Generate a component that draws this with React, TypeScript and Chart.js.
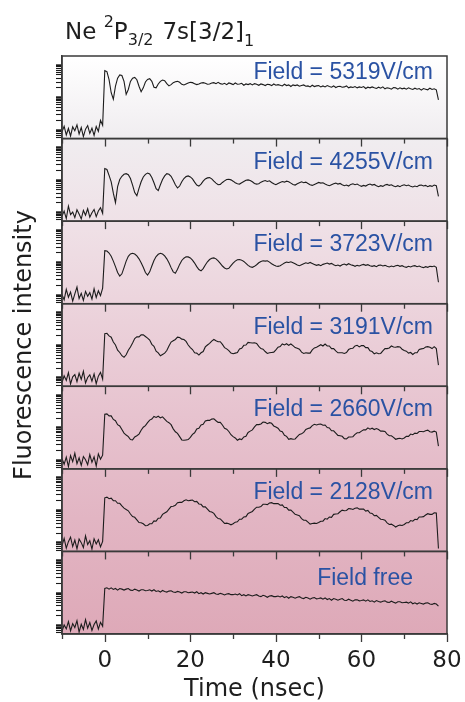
import React, { useEffect, useRef } from 'react';
import { Chart, registerables } from 'chart.js';

Chart.register(...registerables);

// Time axis samples (ns)
const timesNs = [
  -10, -9.5, -9, -8.5, -8, -7.5, -7, -6.5, -6, -5.5, -5, -4.5, -4, -3.5, -3, -2.5, -2, -1.5, -1, -0.5,
  0, 0.5, 1, 1.5, 2, 2.5, 3, 3.5, 4, 4.5, 5, 5.5, 6, 6.5, 7, 7.5, 8, 8.5, 9, 9.5,
  10, 10.5, 11, 11.5, 12, 12.5, 13, 13.5, 14, 14.5, 15, 15.5, 16, 16.5, 17, 17.5, 18, 18.5, 19, 19.5,
  20, 20.5, 21, 21.5, 22, 22.5, 23, 23.5, 24, 24.5, 25, 25.5, 26, 26.5, 27, 27.5, 28, 28.5, 29, 29.5,
  30, 30.5, 31, 31.5, 32, 32.5, 33, 33.5, 34, 34.5, 35, 35.5, 36, 36.5, 37, 37.5, 38, 38.5, 39, 39.5,
  40, 40.5, 41, 41.5, 42, 42.5, 43, 43.5, 44, 44.5, 45, 45.5, 46, 46.5, 47, 47.5, 48, 48.5, 49, 49.5,
  50, 50.5, 51, 51.5, 52, 52.5, 53, 53.5, 54, 54.5, 55, 55.5, 56, 56.5, 57, 57.5, 58, 58.5, 59, 59.5,
  60, 60.5, 61, 61.5, 62, 62.5, 63, 63.5, 64, 64.5, 65, 65.5, 66, 66.5, 67, 67.5, 68, 68.5, 69, 69.5,
  70, 70.5, 71, 71.5, 72, 72.5, 73, 73.5, 74, 74.5, 75, 75.5, 76, 76.5, 77, 77.5, 78,
];

// log10(fluorescence) before excitation (t = -10 … -0.5)
const pre5319 = [-0.05, 0.12, -0.15, 0.05, -0.18, 0.1, -0.02, 0.16, -0.12, 0.08, -0.2, 0.03, 0.14, -0.1, 0.06, -0.16, 0.11, -0.04, 0.3, 0.15];
const pre4255 = [-0.1, 0.05, -0.18, 0.2, -0.06, 0.02, -0.15, 0.09, -0.04, -0.19, 0.07, -0.08, 0.12, -0.14, 0.0, 0.1, -0.12, 0.05, 0.15, -0.02];
const pre3723 = [0.02, -0.14, 0.18, -0.06, 0.1, -0.18, 0.04, 0.25, -0.1, 0.06, -0.16, 0.12, -0.03, 0.08, -0.12, 0.2, -0.07, 0.14, -0.01, 0.22];
const pre3191 = [-0.15, 0.06, -0.08, 0.16, -0.19, 0.03, 0.1, -0.12, 0.14, -0.05, 0.2, -0.16, 0.01, 0.09, -0.1, 0.12, -0.18, 0.05, 0.17, -0.04];
const pre2660 = [0.05, -0.12, 0.1, -0.19, 0.15, -0.04, 0.22, -0.1, 0.08, -0.15, 0.12, 0.02, -0.13, 0.18, -0.06, 0.11, -0.17, 0.2, 0.04, 0.16];
const pre2128 = [-0.08, 0.14, -0.16, 0.04, 0.18, -0.11, 0.09, -0.18, 0.12, 0.01, -0.14, 0.22, -0.05, 0.07, -0.19, 0.13, -0.03, 0.1, -0.12, 0.05];
const preFree = [-0.18, 0.02, -0.1, 0.12, -0.16, 0.06, -0.06, 0.15, -0.2, 0.04, -0.12, 0.18, -0.08, 0.09, -0.15, 0.03, 0.14, -0.11, 0.1, -0.02];

// log10(fluorescence) after excitation (t = 0 … 78)
const post5319 = [
  1.83, 1.8, 1.55, 1.15, 0.95, 1.35, 1.6, 1.7, 1.68, 1.5,
  1.1, 1.25, 1.5, 1.6, 1.62, 1.55, 1.35, 1.18, 1.3, 1.48,
  1.56, 1.58, 1.5, 1.32, 1.3, 1.42, 1.5, 1.54, 1.52, 1.43,
  1.36, 1.4, 1.46, 1.49, 1.5, 1.47, 1.41, 1.39, 1.42, 1.45,
  1.47, 1.46, 1.43, 1.4, 1.42, 1.45, 1.46, 1.44, 1.41, 1.42,
  1.45,
  1.46, 1.43, 1.47, 1.43, 1.41, 1.44, 1.4, 1.45, 1.43, 1.4,
  1.45, 1.41, 1.42, 1.44, 1.38, 1.42, 1.4, 1.43, 1.39, 1.43,
  1.41, 1.38, 1.42, 1.4, 1.37, 1.41, 1.4, 1.37, 1.42, 1.38,
  1.4, 1.38, 1.36, 1.41, 1.37, 1.39, 1.34, 1.39, 1.37, 1.39,
  1.35, 1.37, 1.39, 1.35, 1.36, 1.33, 1.38, 1.34, 1.36, 1.37,
  1.33, 1.36, 1.33, 1.37, 1.34, 1.32, 1.36, 1.31, 1.34, 1.35,
  1.32, 1.33, 1.36, 1.3, 1.33, 1.31, 1.34, 1.3, 1.33, 1.31,
  1.34, 1.28, 1.32, 1.3, 1.33, 1.3, 1.28, 1.32, 1.29, 1.33,
  1.27, 1.3, 1.29, 1.26, 1.31, 1.3, 1.26, 1.3, 1.27, 1.29,
  1.26, 1.3, 1.27, 1.25, 1.29, 1.26, 1.28, 1.23, 1.28, 1.26,
  1.24, 1.29, 1.25, 1.27, 1.24, 0.93,
];
const post4255 = [
  1.36, 1.33, 1.15, 0.95, 0.6, 0.31, 0.8, 1.02, 1.12, 1.18,
  1.2, 1.17, 1.05, 0.85, 0.62, 0.52, 0.75, 0.95, 1.1, 1.18,
  1.22, 1.19, 1.08, 0.92, 0.74, 0.68, 0.86, 1.02, 1.13, 1.2,
  1.18, 1.12, 1.0, 0.86, 0.76, 0.82, 0.95, 1.05, 1.11, 1.13,
  1.1, 1.04, 0.94, 0.85, 0.82, 0.88, 0.97, 1.04, 1.07, 1.08,
  1.04, 0.97, 0.91, 0.86, 0.87, 0.93, 0.98, 1.02, 1.03, 1.01,
  0.97, 0.92, 0.89, 0.88, 0.92, 0.96, 1.0, 1.01, 0.99, 0.95,
  0.9, 0.88, 0.89, 0.94, 0.97, 0.99, 0.96, 0.98, 0.93, 0.89,
  0.86, 0.9, 0.93, 0.96, 0.94, 0.97, 0.95, 0.91, 0.87, 0.85,
  0.89, 0.92, 0.95, 0.92, 0.94, 0.9, 0.86, 0.84, 0.87, 0.9,
  0.93, 0.91, 0.92, 0.88, 0.85, 0.83, 0.86, 0.89, 0.91, 0.88,
  0.9, 0.86, 0.83, 0.85, 0.82, 0.87, 0.89, 0.86, 0.88, 0.84,
  0.81, 0.84, 0.82, 0.86, 0.88, 0.85, 0.87, 0.83, 0.8, 0.83,
  0.81, 0.85, 0.87, 0.84, 0.86, 0.82, 0.8, 0.83, 0.8, 0.84,
  0.86, 0.83, 0.85, 0.81, 0.79, 0.82, 0.8, 0.84, 0.85, 0.82,
  0.84, 0.8, 0.83, 0.81, 0.85, 0.83, 0.5,
];
const post3723 = [
  1.37, 1.36, 1.3, 1.2, 1.05, 0.88, 0.7, 0.59, 0.66, 0.85,
  1.05, 1.2, 1.27, 1.29, 1.27, 1.21, 1.12, 1.0, 0.86, 0.7,
  0.62, 0.72, 0.9, 1.07, 1.19, 1.26, 1.29, 1.27, 1.21, 1.12,
  1.0, 0.85, 0.72, 0.68, 0.8, 0.95, 1.07, 1.14, 1.18, 1.18,
  1.15, 1.08, 0.99, 0.88, 0.79, 0.75, 0.82, 0.93, 1.03, 1.1,
  1.14, 1.15, 1.12, 1.06, 0.98, 0.9, 0.84, 0.81, 0.83, 0.91,
  0.99, 1.05, 1.09, 1.1, 1.08, 1.04, 0.98, 0.92, 0.88, 0.86,
  0.89, 0.94, 1.0, 1.04, 1.06, 1.05, 1.06, 1.02, 0.97, 0.93,
  0.9, 0.89, 0.91, 0.95, 0.99, 1.02, 1.01, 1.03, 1.0, 0.97,
  0.93, 0.91, 0.94, 0.97, 1.0, 0.98, 1.01, 0.98, 0.95, 0.92,
  0.94, 0.91, 0.95, 0.97, 0.99, 0.96, 0.98, 0.94, 0.91, 0.93,
  0.9, 0.94, 0.96, 0.93, 0.97, 0.94, 0.92, 0.89, 0.92, 0.9,
  0.93, 0.95, 0.92, 0.94, 0.91, 0.89, 0.91, 0.88, 0.92, 0.93,
  0.9, 0.92, 0.89, 0.87, 0.9, 0.88, 0.91, 0.92, 0.89, 0.91,
  0.88, 0.86, 0.89, 0.87, 0.9, 0.91, 0.88, 0.9, 0.87, 0.85,
  0.88, 0.86, 0.89, 0.88, 0.9, 0.86, 0.4,
];
const post3191 = [
  1.36, 1.37, 1.29, 1.25, 1.1, 1.01, 0.85, 0.78, 0.68, 0.63,
  0.71, 0.85, 0.95, 1.07, 1.21, 1.26, 1.26, 1.32, 1.32, 1.27,
  1.22, 1.16, 1.03, 0.97, 0.82, 0.77, 0.68, 0.72, 0.76, 0.84,
  0.98, 1.1, 1.14, 1.18, 1.25, 1.24, 1.19, 1.18, 1.12, 1.01,
  0.93, 0.87, 0.77, 0.76, 0.7, 0.77, 0.81, 0.95, 1.01, 1.06,
  1.13, 1.18, 1.14, 1.11, 1.11, 1.03, 0.93, 0.89, 0.84, 0.76,
  0.74, 0.76, 0.78, 0.89, 0.91, 1.0, 1.01, 1.09, 1.08, 1.07,
  1.08, 1.06, 0.97, 0.9, 0.88, 0.81, 0.75, 0.77, 0.78, 0.79,
  0.86, 0.94, 0.96, 1.04, 1.01, 1.05, 1.0, 1.04, 0.99, 0.93,
  0.91, 0.88, 0.79, 0.75, 0.77, 0.76, 0.76, 0.86, 0.92, 0.94,
  0.98, 1.02, 0.98, 1.04, 0.98, 0.98, 0.9, 0.9, 0.83, 0.77,
  0.77, 0.77, 0.75, 0.78, 0.87, 0.9, 0.91, 0.98, 1.0, 0.95,
  0.99, 0.99, 0.93, 0.93, 0.83, 0.81, 0.74, 0.77, 0.74, 0.75,
  0.83, 0.9, 0.9, 0.92, 0.98, 0.95, 0.94, 0.96, 0.95, 0.88,
  0.84, 0.82, 0.76, 0.78, 0.72, 0.77, 0.77, 0.87, 0.89, 0.9,
  0.95, 0.96, 0.94, 0.9, 0.96, 0.9, 0.39,
];
const post2660 = [
  1.42, 1.43, 1.37, 1.37, 1.26, 1.22, 1.1, 1.06, 0.95, 0.84,
  0.78, 0.73, 0.64, 0.63, 0.72, 0.76, 0.81, 0.93, 1.02, 1.07,
  1.16, 1.24, 1.27, 1.35, 1.32, 1.36, 1.31, 1.34, 1.27, 1.2,
  1.16, 1.1, 0.97, 0.88, 0.83, 0.73, 0.63, 0.62, 0.63, 0.64,
  0.71, 0.8, 0.85, 0.97, 0.99, 1.09, 1.11, 1.21, 1.23, 1.23,
  1.27, 1.28, 1.22, 1.17, 1.17, 1.09, 0.99, 0.96, 0.89, 0.79,
  0.73, 0.69, 0.62, 0.66, 0.64, 0.72, 0.74, 0.86, 0.9, 0.94,
  1.03, 1.1, 1.1, 1.12, 1.18, 1.17, 1.13, 1.16, 1.14, 1.06,
  1.03, 0.99, 0.9, 0.88, 0.77, 0.74, 0.65, 0.67, 0.65, 0.66,
  0.73, 0.8, 0.82, 0.86, 0.95, 0.98, 1.0, 1.07, 1.11, 1.09,
  1.11, 1.12, 1.08, 1.09, 1.01, 1.0, 0.91, 0.91, 0.84, 0.77,
  0.76, 0.74, 0.67, 0.66, 0.72, 0.72, 0.73, 0.8, 0.85, 0.85,
  0.9, 0.94, 0.94, 1.0, 0.96, 0.99, 0.95, 0.98, 0.95, 0.9,
  0.9, 0.89, 0.81, 0.76, 0.76, 0.71, 0.65, 0.67, 0.68, 0.66,
  0.69, 0.74, 0.74, 0.81, 0.79, 0.84, 0.83, 0.89, 0.89, 0.88,
  0.91, 0.93, 0.88, 0.87, 0.9, 0.87, 0.44,
];
const post2128 = [
  1.39, 1.41, 1.36, 1.38, 1.3, 1.3, 1.22, 1.22, 1.14, 1.07,
  1.03, 0.99, 0.89, 0.81, 0.79, 0.71, 0.63, 0.62, 0.59, 0.53,
  0.54, 0.59, 0.59, 0.68, 0.67, 0.76, 0.77, 0.88, 0.92, 0.96,
  1.04, 1.12, 1.13, 1.16, 1.24, 1.25, 1.25, 1.3, 1.33, 1.3,
  1.31, 1.32, 1.27, 1.28, 1.2, 1.19, 1.11, 1.11, 1.04, 0.97,
  0.95, 0.91, 0.81, 0.75, 0.74, 0.67, 0.6, 0.61, 0.59, 0.56,
  0.59, 0.64, 0.65, 0.73, 0.73, 0.8, 0.81, 0.91, 0.94, 0.97,
  1.04, 1.1, 1.1, 1.12, 1.19, 1.19, 1.18, 1.23, 1.24, 1.21,
  1.21, 1.21, 1.16, 1.17, 1.09, 1.09, 1.01, 1.01, 0.95, 0.88,
  0.86, 0.84, 0.75, 0.7, 0.7, 0.64, 0.58, 0.6, 0.61, 0.6,
  0.63, 0.67, 0.67, 0.75, 0.73, 0.8, 0.79, 0.88, 0.89, 0.9,
  0.96, 1.01, 0.99, 1.0, 1.06, 1.05, 1.03, 1.07, 1.08, 1.04,
  1.04, 1.04, 0.98, 1.0, 0.92, 0.91, 0.84, 0.85, 0.79, 0.73,
  0.72, 0.7, 0.62, 0.57, 0.58, 0.54, 0.49, 0.53, 0.55, 0.54,
  0.57, 0.62, 0.62, 0.69, 0.67, 0.73, 0.72, 0.8, 0.8, 0.81,
  0.86, 0.9, 0.88, 0.88, 0.93, 0.92, -0.17,
];
const postFree = [
  1.14, 1.16, 1.12, 1.16, 1.11, 1.14, 1.09, 1.14, 1.12, 1.09,
  1.12, 1.14, 1.09, 1.08, 1.12, 1.09, 1.06, 1.1, 1.1, 1.07,
  1.08, 1.1, 1.06, 1.1, 1.05, 1.07, 1.03, 1.08, 1.05, 1.03,
  1.06, 1.07, 1.03, 1.02, 1.05, 1.03, 1.0, 1.04, 1.04, 1.01,
  1.02, 1.03, 1.0, 1.04, 0.98, 1.01, 0.97, 1.01, 0.99, 0.97,
  0.99, 1.01, 0.97, 0.96, 0.99, 0.97, 0.94, 0.97, 0.98, 0.95,
  0.95, 0.97, 0.94, 0.98, 0.92, 0.95, 0.91, 0.95, 0.93, 0.91,
  0.93, 0.95, 0.91, 0.89, 0.93, 0.91, 0.87, 0.91, 0.92, 0.89,
  0.89, 0.91, 0.88, 0.91, 0.86, 0.89, 0.84, 0.89, 0.87, 0.84,
  0.87, 0.89, 0.85, 0.83, 0.87, 0.85, 0.81, 0.85, 0.86, 0.82,
  0.83, 0.85, 0.81, 0.85, 0.8, 0.83, 0.78, 0.83, 0.81, 0.78,
  0.81, 0.83, 0.78, 0.77, 0.81, 0.78, 0.75, 0.79, 0.79, 0.76,
  0.77, 0.79, 0.75, 0.79, 0.74, 0.76, 0.72, 0.77, 0.74, 0.72,
  0.75, 0.76, 0.72, 0.71, 0.75, 0.72, 0.69, 0.73, 0.73, 0.7,
  0.71, 0.72, 0.69, 0.73, 0.67, 0.7, 0.66, 0.7, 0.68, 0.66,
  0.69, 0.7, 0.66, 0.65, 0.68, 0.66, 0.6,
];

const fieldLabels = [
  'Field = 5319V/cm', 'Field = 4255V/cm', 'Field = 3723V/cm', 'Field = 3191V/cm',
  'Field = 2660V/cm', 'Field = 2128V/cm', 'Field free',
];
const preTraces = [pre5319, pre4255, pre3723, pre3191, pre2660, pre2128, preFree];
const postTraces = [post5319, post4255, post3723, post3191, post2660, post2128, postFree];

// log10 positions of the log-scale ticks: 0.6 … 0.9, 1 … 9, 10 … 90, 100
const yTickValues = [
  -0.222, -0.155, -0.097, -0.046,
  0, 0.301, 0.477, 0.602, 0.699, 0.778, 0.845, 0.903, 0.954,
  1, 1.301, 1.477, 1.602, 1.699, 1.778, 1.845, 1.903, 1.954,
  2,
];
const yMajorTicks = [0, 1, 2];
const yMin = -0.26;
const yMax = 2.28;
const xMin = -10;
const xMax = 80;

// styles
const labelRightInset = [14, 14, 14, 14, 14, 14, 34];
const labelBaseline = [23, 30, 30, 30, 30, 30, 34];
const FRAME = '#3a3a3a';
const TEXT = '#1e1e1e';
const BLUE = '#2a52a3';
const AXIS_FONT = '"DejaVu Sans", sans-serif';

const panelPlugin = {
  id: 'panels',
  beforeDraw(chart: any) {
    const { ctx, chartArea } = chart;
    const g = ctx.createLinearGradient(0, chartArea.top, 0, chartArea.bottom);
    g.addColorStop(0, '#ffffff');
    g.addColorStop(0.14, '#f0edf0');
    g.addColorStop(0.3, '#efe0e6');
    g.addColorStop(0.46, '#ebd1da');
    g.addColorStop(0.62, '#e7c3cf');
    g.addColorStop(0.8, '#e2b5c3');
    g.addColorStop(1, '#dea9b8');
    ctx.save();
    ctx.fillStyle = g;
    ctx.fillRect(chartArea.left, chartArea.top, chartArea.right - chartArea.left, chartArea.bottom - chartArea.top);
    ctx.restore();
  },
  afterDatasetsDraw(chart: any) {
    const { ctx, chartArea } = chart;
    const xs = chart.scales.x;
    ctx.save();
    for (let i = 0; i < fieldLabels.length; i++) {
      const ys = chart.scales['y' + i];
      ctx.strokeStyle = FRAME;
      ctx.lineWidth = 1.5;
      ctx.strokeRect(chartArea.left, ys.top, chartArea.right - chartArea.left, ys.bottom - ys.top);
      ctx.lineWidth = 1.3;
      for (const t of xs.ticks) {
        const px = Math.round(xs.getPixelForValue(t.value)) + 0.5;
        const len = t.value % 20 === 0 ? 8 : 5;
        ctx.beginPath();
        ctx.moveTo(px, ys.bottom);
        ctx.lineTo(px, ys.bottom + len);
        ctx.stroke();
      }
      ctx.fillStyle = BLUE;
      ctx.font = '23px "Liberation Sans", Arial, sans-serif';
      ctx.textAlign = 'right';
      ctx.textBaseline = 'alphabetic';
      ctx.fillText(fieldLabels[i], chartArea.right - labelRightInset[i], ys.top + labelBaseline[i]);
    }
    ctx.restore();
  },
};

export default function App() {
  const ref = useRef<HTMLCanvasElement>(null);

  useEffect(() => {
    const canvas = ref.current;
    if (!canvas) return;

    const scales: any = {
      x: {
        type: 'linear',
        min: xMin,
        max: xMax,
        afterFit: (s: any) => { s.height = 68; s.paddingLeft = 0; s.paddingRight = 0; },
        grid: { display: true, drawOnChartArea: false, drawTicks: false },
        border: { display: true, color: FRAME, width: 1.5 },
        ticks: {
          stepSize: 10,
          autoSkip: false,
          maxRotation: 0,
          padding: 13,
          color: TEXT,
          font: { family: AXIS_FONT, size: 23, lineHeight: 1.2 },
          callback: (v: any) => (Number(v) % 20 === 0 ? String(v) : ''),
        },
        title: {
          display: true,
          text: 'Time (nsec)',
          color: TEXT,
          font: { family: AXIS_FONT, size: 24, lineHeight: 1 },
          padding: { top: 0, bottom: 0 },
        },
      },
    };
    // later-defined left axes are stacked on top, so define bottom panel first
    for (let i = fieldLabels.length - 1; i >= 0; i--) {
      scales['y' + i] = {
        type: 'linear',
        position: 'left',
        stack: 'panels',
        stackWeight: 1,
        min: yMin,
        max: yMax,
        afterBuildTicks: (s: any) => { s.ticks = yTickValues.map((v) => ({ value: v })); },
        afterFit: (s: any) => { s.width = 62; s.paddingTop = 0; s.paddingBottom = 0; },
        ticks: { display: false, autoSkip: false },
        grid: {
          display: true,
          drawOnChartArea: false,
          drawTicks: true,
          tickLength: 6,
          tickColor: '#1a1a1a',
          tickWidth: (c: any) => (c.tick && yMajorTicks.includes(c.tick.value) ? 2.4 : 1.1),
        },
        border: { display: true, color: FRAME, width: 1.5 },
        title: {
          display: i === 3,
          text: 'Fluorescence intensity',
          color: TEXT,
          font: { family: AXIS_FONT, size: 24, lineHeight: 1 },
          padding: { top: 13, bottom: 0 },
        },
      };
    }

    const datasets = postTraces.map((post, i) => {
      const vals = [...preTraces[i], ...post];
      return {
        data: timesNs.map((t, j) => ({ x: t, y: vals[j] })),
        yAxisID: 'y' + i,
        borderColor: '#1c1c1c',
        borderWidth: 1.1,
        pointRadius: 0,
        tension: 0,
        fill: false,
      };
    });

    const chart = new Chart(canvas, {
      type: 'line',
      data: { datasets },
      options: {
        responsive: false,
        animation: false,
        layout: { padding: { top: 56, right: 18, bottom: 0, left: 0 } },
        plugins: { legend: { display: false }, tooltip: { enabled: false } },
        scales,
      },
      plugins: [panelPlugin],
    } as any);

    return () => chart.destroy();
  }, []);

  const sub = { fontSize: 16, position: 'relative' as const };

  return (
    <div style={{ position: 'absolute', left: 0, top: 0, width: 465, height: 702, background: '#ffffff', overflow: 'hidden' }}>
      <canvas ref={ref} width={465} height={702} style={{ position: 'absolute', left: 0, top: 0, width: 465, height: 702 }} />
      <div
        style={{
          position: 'absolute', left: 65, top: 20, fontFamily: AXIS_FONT, fontSize: 23,
          lineHeight: '23px', color: TEXT, whiteSpace: 'nowrap',
        }}
      >
        Ne <span style={{ ...sub, top: -12 }}>2</span>P<span style={{ ...sub, top: 6 }}>3/2</span>
        <span style={{ marginLeft: 9 }}>7s[3/2]</span><span style={{ ...sub, top: 7 }}>1</span>
      </div>
    </div>
  );
}
